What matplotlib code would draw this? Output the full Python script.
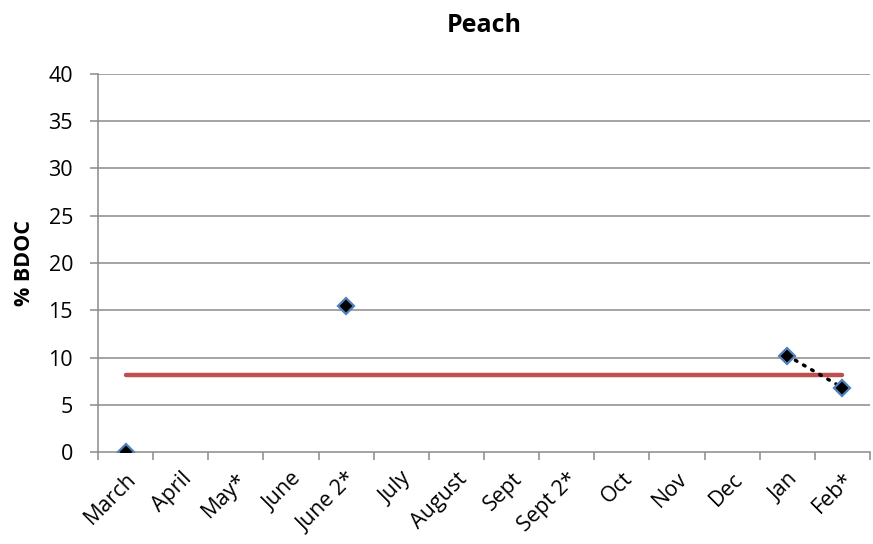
import matplotlib.pyplot as plt
import numpy as np

plt.rcParams['font.family'] = ['Open Sans', 'DejaVu Sans']

# data
months = ["March", "April", "May*", "June", "June 2*", "July", "August",
          "Sept", "Sept 2*", "Oct", "Nov", "Dec", "Jan", "Feb*"]
bdoc = [0.0, None, None, None, 15.4, None, None,
        None, None, None, None, None, 10.2, 6.8]
trend_months = ["Jan", "Feb*"]
trend_vals = [10.2, 6.8]
mean_val = 8.1

x = np.arange(len(months))
y = np.array([np.nan if v is None else v for v in bdoc])

fig = plt.figure(figsize=(8.73, 5.44), dpi=100)
ax = fig.add_axes([0.1123, 0.1691, 0.8843, 0.6949])

grid_c = "#8a8a8a"
ax.set_xlim(-0.5, len(months) - 0.5)
ax.set_ylim(0, 40)
ax.set_yticks(np.arange(0, 41, 5))
for v in np.arange(5, 41, 5):
    ax.axhline(v, color=grid_c, lw=1.1, zorder=1)

# mean line
ax.plot([x[0], x[-1]], [mean_val, mean_val], color="#C0504D", lw=3.2,
        solid_capstyle="round", zorder=2)

# dotted trend Jan -> Feb*
tx = [months.index(m) for m in trend_months]
ax.plot(tx, trend_vals, color="black", lw=2.5, linestyle=(0, (0.5, 2.2)),
        dash_capstyle="round", zorder=3)

ax.plot(x, y, linestyle="none", marker="D", ms=8, mfc="black",
        mec="#4F81BD", mew=1.6, zorder=4)

ax.set_xticks(x)
ax.set_xticklabels(months, rotation=45, ha="right", rotation_mode="anchor",
                   fontsize=15.5)
ax.set_xticks(np.arange(-0.5, len(months)), minor=True)
ax.tick_params(axis="x", which="major", length=0, pad=12)
ax.tick_params(axis="x", which="minor", length=6, color=grid_c, width=1.1)
ax.tick_params(axis="y", length=6, color=grid_c, width=1.1, labelsize=15.5,
               pad=12)

for s in ["top", "right"]:
    ax.spines[s].set_visible(False)
for s in ["left", "bottom"]:
    ax.spines[s].set_color(grid_c)
    ax.spines[s].set_linewidth(1.1)

ax.set_ylabel("% BDOC", fontsize=15.5, fontweight="bold", labelpad=10)
ax.set_title("Peach", fontsize=18, fontweight="bold", pad=30)

fig.savefig("out.png", dpi=100)
